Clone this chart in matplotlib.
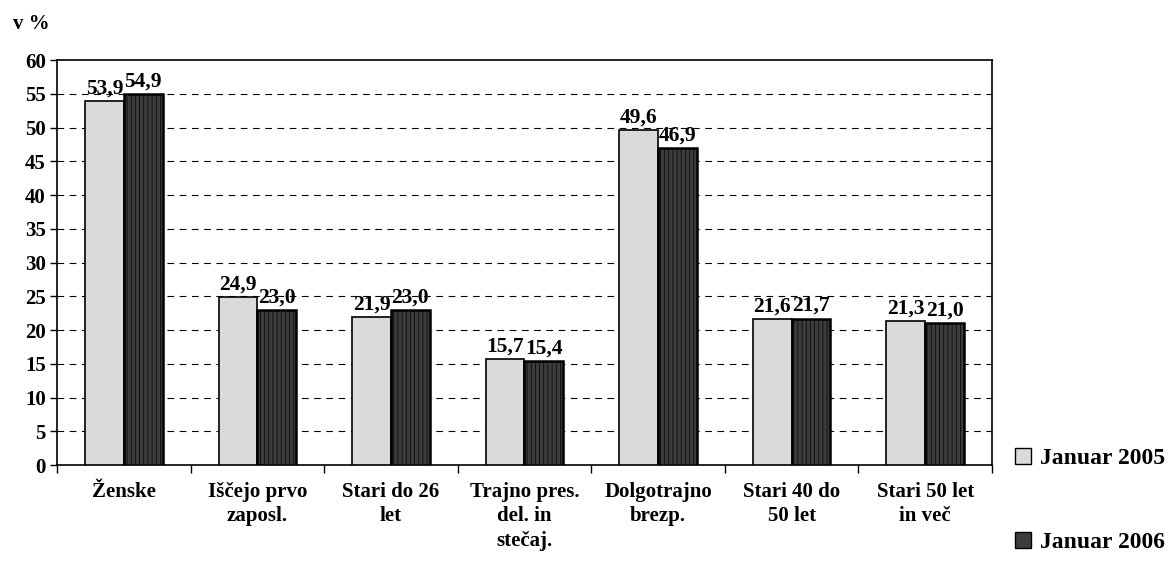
import numpy as np
import matplotlib
matplotlib.use("Agg")
import matplotlib.pyplot as plt
from matplotlib.patches import Patch

categories = ["Ženske", "Iščejo prvo\nzaposl.", "Stari do 26\nlet", "Trajno pres.\ndel. in\nstečaj.",
              "Dolgotrajno\nbrezp.", "Stari 40 do\n50 let", "Stari 50 let\nin več"]
jan_2005 = [53.9, 24.9, 21.9, 15.7, 49.6, 21.6, 21.3]
jan_2006 = [54.9, 23.0, 23.0, 15.4, 46.9, 21.7, 21.0]
series_names = ["Januar 2005", "Januar 2006"]

plt.rcParams['font.family'] = ['Liberation Serif', 'DejaVu Serif']
plt.rcParams['font.weight'] = 'bold'
plt.rcParams['hatch.linewidth'] = 0.5

fig = plt.figure(figsize=(11.76, 5.61), dpi=100)
ax = fig.add_axes([0.0485, 0.171, 0.795, 0.722])

x = np.arange(len(categories))
w = 0.29
light = '#dadada'
dark = '#3c3c3c'

b1 = ax.bar(x - w / 2, jan_2005, w, color=light, edgecolor='black', linewidth=1.2, zorder=3)
b2 = ax.bar(x + w / 2, jan_2006, w, color=dark, edgecolor='black', linewidth=1.8,
            hatch='||||', zorder=3)

# value labels above each bar, decimal comma
for bars, vals in [(b1, jan_2005), (b2, jan_2006)]:
    for b, v in zip(bars, vals):
        ax.text(b.get_x() + b.get_width() / 2, v + 0.4, f"{v:.1f}".replace('.', ','),
                ha='center', va='bottom', fontsize=15.5, fontweight='bold', zorder=4)

ax.set_ylim(0, 60)
ax.set_xlim(-0.5, len(categories) - 0.5)
ax.set_yticks(np.arange(0, 61, 5))
ax.tick_params(axis='y', labelsize=15, length=5, width=1, direction='out', pad=3)
for yv in np.arange(5, 60, 5):
    ax.axhline(yv, color='black', linestyle=(0, (6, 5)), linewidth=0.8, zorder=1)

ax.set_xticks(x)
ax.set_xticklabels(categories, fontsize=15, fontweight='bold', linespacing=1.3)
ax.tick_params(axis='x', length=0, pad=12)
ax.set_xticks(np.arange(-0.5, len(categories), 1), minor=True)
ax.tick_params(axis='x', which='minor', length=6, width=1, direction='out')

for s in ax.spines.values():
    s.set_linewidth(1.2)

fig.text(0.011, 0.958, "v %", fontsize=15, fontweight='bold', ha='left', va='center')

handles = [Patch(facecolor=light, edgecolor='black', linewidth=1.0),
           Patch(facecolor=dark, edgecolor='black', linewidth=1.0)]
fig.legend(handles, series_names, loc='upper left', bbox_to_anchor=(0.845, 0.24),
           frameon=False, handlelength=0.7, handleheight=0.7,
           handletextpad=0.35, labelspacing=2.65, prop={'weight': 'bold', 'size': 17})

fig.savefig("out.png", dpi=100)
